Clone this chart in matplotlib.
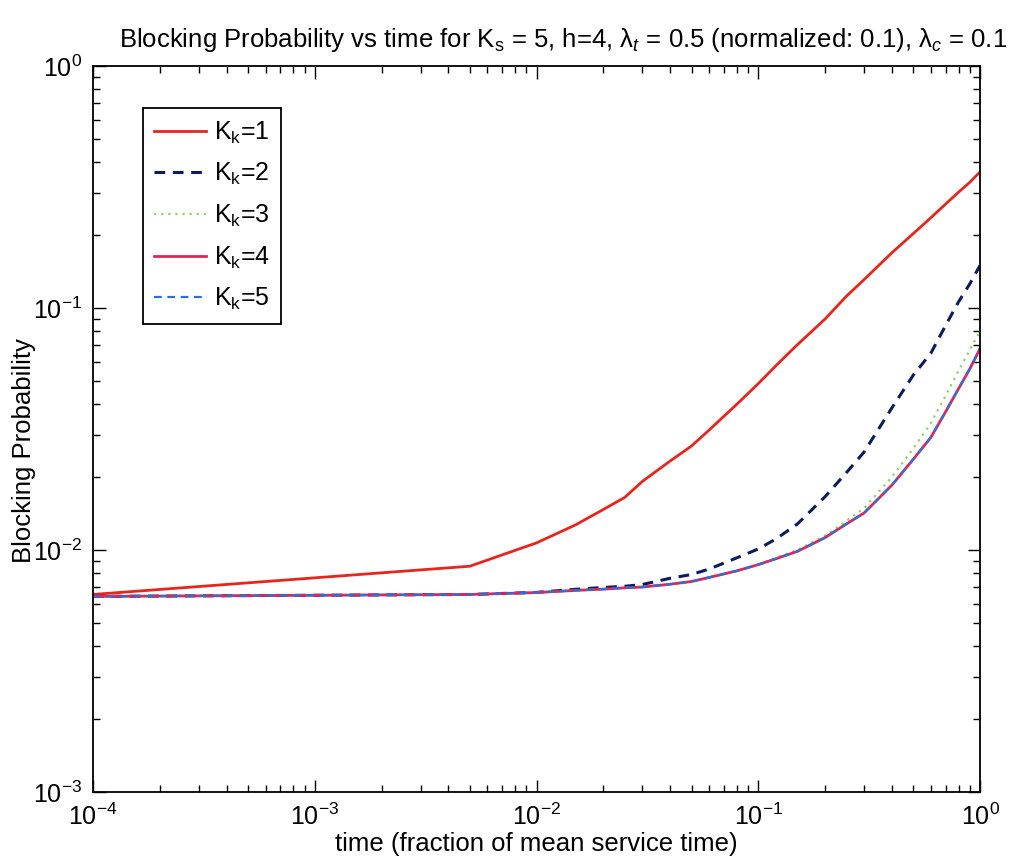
import matplotlib
matplotlib.use('Agg')
from matplotlib import pyplot as plt
from matplotlib.ticker import LogLocator

# time samples (fraction of mean service time)
t = [1e-4, 0.005, 0.01, 0.015, 0.02, 0.025, 0.03, 0.04, 0.05, 0.06, 0.08, 0.1,
     0.12, 0.15, 0.2, 0.25, 0.3, 0.4, 0.5, 0.6, 0.7, 0.8, 0.9, 1.0]

# blocking probability for each K_k
pb_k1 = [0.00655, 0.00857, 0.0107, 0.0127, 0.0147, 0.0165, 0.0192, 0.0233, 0.0269,
         0.0313, 0.0400, 0.0487, 0.0577, 0.0705, 0.0900, 0.112, 0.131, 0.169,
         0.203, 0.236, 0.269, 0.301, 0.331, 0.365]
pb_k2 = [0.00643, 0.00655, 0.00668, 0.00688, 0.00700, 0.00708, 0.00720, 0.00764,
         0.00792, 0.00834, 0.00928, 0.0101, 0.0111, 0.0128, 0.0166, 0.0209, 0.0254,
         0.0386, 0.0528, 0.065, 0.0848, 0.106, 0.126, 0.150]
pb_k3 = [0.00643, 0.00655, 0.00667, 0.00681, 0.00689, 0.00698, 0.00703, 0.00722,
         0.00741, 0.0077, 0.0082, 0.0087, 0.0093, 0.0100, 0.01147, 0.0132, 0.0149,
         0.0200, 0.0263, 0.0334, 0.0435, 0.0551, 0.0673, 0.080]
pb_k4 = [0.00643, 0.00655, 0.00667, 0.00681, 0.00689, 0.00698, 0.00703, 0.00722,
         0.00741, 0.0077, 0.0082, 0.0087, 0.0092, 0.00987, 0.01125, 0.01282, 0.01422,
         0.01852, 0.0237, 0.0292, 0.0373, 0.0464, 0.0561, 0.068]
pb_k5 = list(pb_k4)

plt.rcParams['font.family'] = ['Liberation Sans', 'DejaVu Sans']
plt.rcParams['mathtext.fontset'] = 'custom'
plt.rcParams['mathtext.rm'] = 'Liberation Sans'
plt.rcParams['mathtext.it'] = 'Liberation Sans:italic'
plt.rcParams['mathtext.default'] = 'regular'

fig = plt.figure(figsize=(10.18, 8.67), dpi=100)
ax = fig.add_axes([0.0914, 0.0865, 0.8713, 0.8374])

ax.loglog(t, pb_k1, color='#e8251c', lw=2.0, label='K$_k$=1')
ax.loglog(t, pb_k2, color='#0c1d5c', lw=2.2, ls=(0, (3.5, 2.5)), label='K$_k$=2')
ax.loglog(t, pb_k3, color='#8fd06a', lw=1.6, ls=(0, (1, 2.2)), label='K$_k$=3')
ax.loglog(t, pb_k4, color='#e2245a', lw=2.0, label='K$_k$=4')
ax.loglog(t, pb_k5, color='#2e6fd6', lw=1.6, ls=(0, (3.5, 2.5)), label='K$_k$=5')

ax.set_xlim(1e-4, 1)
ax.set_ylim(1e-3, 1)
ax.xaxis.set_major_locator(LogLocator(base=10, numticks=10))
ax.yaxis.set_major_locator(LogLocator(base=10, numticks=10))
ax.tick_params(which='both', direction='in', top=True, right=True, width=1.0)
ax.tick_params(which='major', length=9, labelsize=18, pad=8)
ax.tick_params(which='minor', length=5)
for s in ax.spines.values():
    s.set_linewidth(1.3)

ax.set_title(r'Blocking Probability vs time for K$_s$ = 5, h=4, $\lambda_{\mathit{t}}$ = 0.5 '
             r'(normalized: 0.1), $\lambda_{\mathit{c}}$ = 0.1', fontsize=18.5, pad=14, x=0.53)
ax.set_xlabel('time (fraction of mean service time)', fontsize=18.5, labelpad=2)
ax.set_ylabel('Blocking Probability', fontsize=18.5)
ax.yaxis.set_label_coords(-0.064, 0.47)

leg = ax.legend(loc='upper left', bbox_to_anchor=(0.056, 0.942), borderaxespad=0,
                fontsize=18, fancybox=False, edgecolor='black', framealpha=1,
                handlelength=2.1, labelspacing=0.62, handletextpad=0.3,
                borderpad=0.45)
leg.get_frame().set_linewidth(1.3)

plt.savefig('out.png', dpi=100)
